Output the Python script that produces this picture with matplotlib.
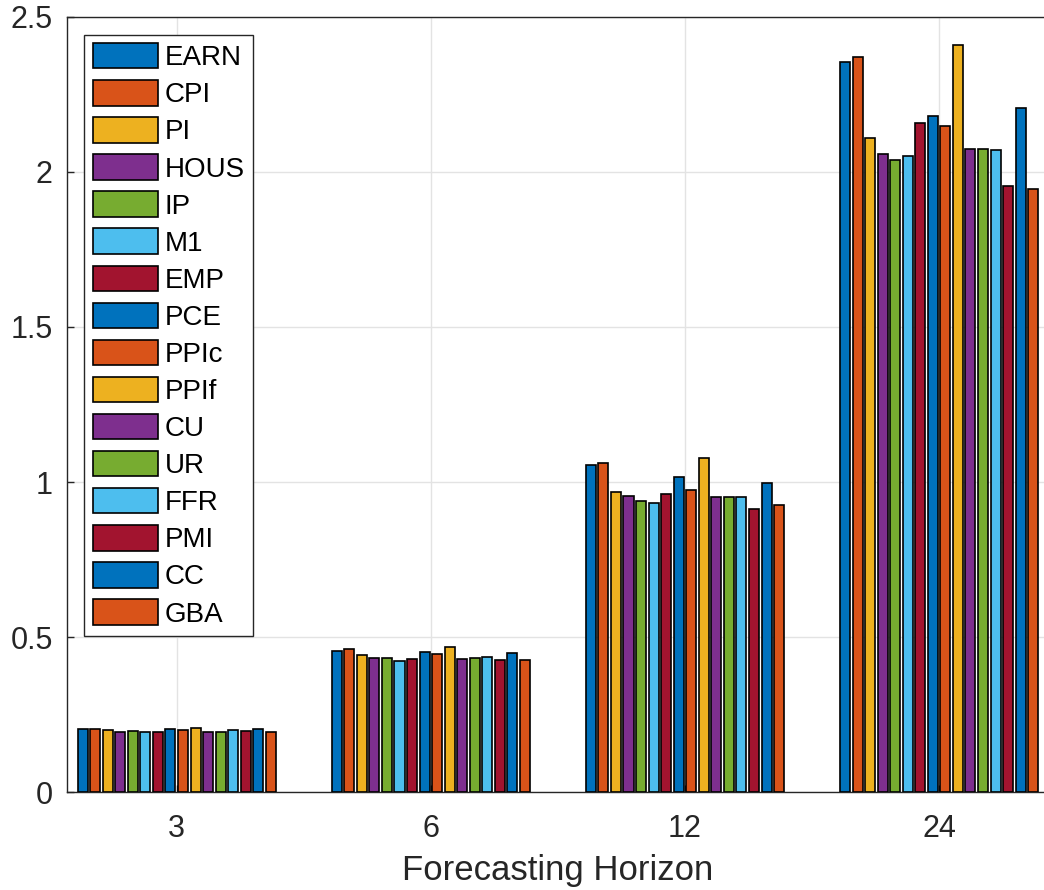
import numpy as np
import matplotlib
matplotlib.use("Agg")
import matplotlib.pyplot as plt

plt.rcParams['font.family'] = ['Liberation Sans', 'DejaVu Sans']

# forecasting horizons (months) and series names
horizons = ['3', '6', '12', '24']
series = ['EARN', 'CPI', 'PI', 'HOUS', 'IP', 'M1', 'EMP', 'PCE',
          'PPIc', 'PPIf', 'CU', 'UR', 'FFR', 'PMI', 'CC', 'GBA']

# one row per horizon, one column per series
h3 = [0.204, 0.204, 0.201, 0.195, 0.198, 0.194, 0.194, 0.202,
      0.200, 0.207, 0.193, 0.195, 0.199, 0.197, 0.204, 0.194]
h6 = [0.455, 0.463, 0.441, 0.431, 0.432, 0.424, 0.428, 0.451,
      0.444, 0.468, 0.428, 0.431, 0.437, 0.426, 0.450, 0.425]
h12 = [1.055, 1.062, 0.967, 0.954, 0.940, 0.932, 0.962, 1.017,
       0.975, 1.079, 0.952, 0.952, 0.952, 0.914, 0.998, 0.925]
h24 = [2.355, 2.370, 2.108, 2.057, 2.039, 2.052, 2.157, 2.182,
       2.149, 2.410, 2.075, 2.075, 2.070, 1.955, 2.207, 1.944]

vals = np.array([h3, h6, h12, h24])

# MATLAB default colour order
colors = ['#0072BD', '#D95319', '#EDB120', '#7E2F8E',
          '#77AC30', '#4DBEEE', '#A2142F']

fig = plt.figure(figsize=(10.44, 8.9), dpi=100)
ax = fig.add_axes([0.0639, 0.110, 0.941, 0.871])

x = np.arange(1, len(horizons) + 1)
n = len(series)
slot = 0.79 / n
for i, name in enumerate(series):
    ax.bar(x - 0.395 + slot * (i + 0.5), vals[:, i], width=slot * 0.8,
           color=colors[i % len(colors)], edgecolor='black',
           linewidth=1.2, label=name, zorder=3)

ax.set_xlim(0.567, 4.433)
ax.set_ylim(0, 2.5)
ax.set_xticks(x)
ax.set_xticklabels(horizons)
ax.set_yticks(np.arange(0, 2.51, 0.5))
ax.set_yticklabels(['0', '0.5', '1', '1.5', '2', '2.5'])

ax.grid(True, color='#e3e3e3', linewidth=1.0, zorder=0)
ax.set_axisbelow(True)
ax.tick_params(direction='in', length=5, width=1, colors='#262626',
               labelsize=22)
ax.tick_params(axis='y', pad=10)
ax.tick_params(axis='x', pad=16)
for side in ['left', 'bottom', 'top']:
    ax.spines[side].set_color('#262626')
    ax.spines[side].set_linewidth(1.0)
ax.spines['right'].set_visible(False)

ax.set_xlabel('Forecasting Horizon', fontsize=25, color='#262626', labelpad=7)

leg = ax.legend(loc='upper left', bbox_to_anchor=(0.018, 0.977),
                fontsize=20, frameon=True, fancybox=False,
                handlelength=2.35, handleheight=1.03, handletextpad=0.25,
                labelspacing=0.32, borderpad=0.3, borderaxespad=0)
leg.get_frame().set_edgecolor('#262626')
leg.get_frame().set_linewidth(1.0)
leg.get_frame().set_alpha(1)

fig.savefig('out.png', dpi=100)
